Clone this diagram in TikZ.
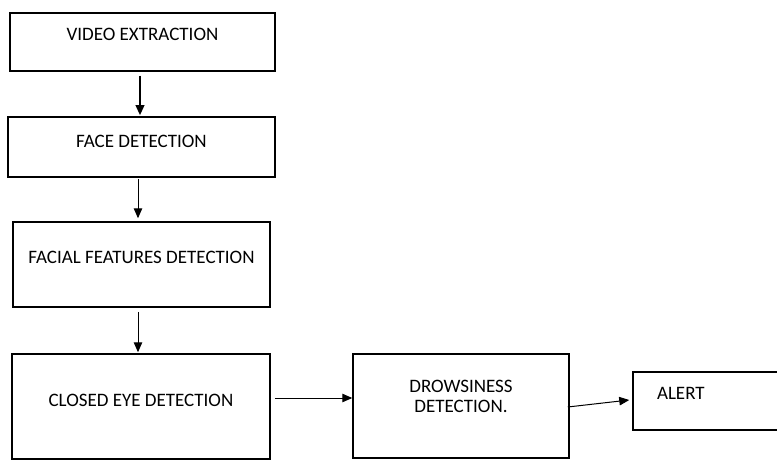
\documentclass[tikz,border=0pt]{standalone}
\usepackage{fontspec}
\setmainfont{Carlito}
\usetikzlibrary{arrows.meta}
\usetikzlibrary{calc}

\tikzset{
  stage/.style={draw=black, line width=1.5pt, inner xsep=0pt, inner ysep=0pt,
    font=\fontsize{19}{20}\selectfont, align=center},
  flow/.style={-{Triangle[length=10pt,width=8.5pt]}, line width=1pt},
}

\begin{document}
\begin{tikzpicture}[x=1pt,y=-1pt]
\useasboundingbox (0,0) rectangle (777,460);
\clip (0,0) rectangle (777,460);
% chain of stages, left column
\node[stage, minimum width=265pt, text height=28pt, text depth=30pt] (video) at (142.5,42) {VIDEO EXTRACTION};
\node[stage, minimum width=267pt, text height=30pt, text depth=30pt] (face) at (141.5,147) {FACE DETECTION};
\node[stage, minimum width=257pt, text height=41pt, text depth=44pt] (features) at (141.5,264.5) {FACIAL FEATURES DETECTION};
\node[stage, minimum width=258pt, text height=52pt, text depth=53pt] (closed) at (141,406.5) {CLOSED EYE DETECTION};
% bottom row
\node[stage, minimum width=216pt, text height=58pt, text depth=46pt] (drowsy) at (461,406) {DROWSINESS\\DETECTION.};
\node[stage, inner xsep=24pt, text width=109pt, align=left, text height=27pt, text depth=31pt] (alert) at (711.5,401) {ALERT};
% arrows
\draw[flow, line width=2pt] ($(video.south)+(-2.5,4)$) -- ($(face.north)+(-1.5,-1)$);
\draw[flow] ($(face.south)+(-3.5,1)$) -- ($(features.north)+(-3.5,-3)$);
\draw[flow] ($(features.south)+(-3.5,4)$) -- ($(closed.north)+(-3,-1)$);
\draw[flow] ($(closed.east)+(4,-8.5)$) -- ($(drowsy.west)+(0,-8)$);
\draw[flow] ($(drowsy.east)+(-2,1)$) -- ($(alert.west)+(-3,-1)$);
\end{tikzpicture}
\end{document}
